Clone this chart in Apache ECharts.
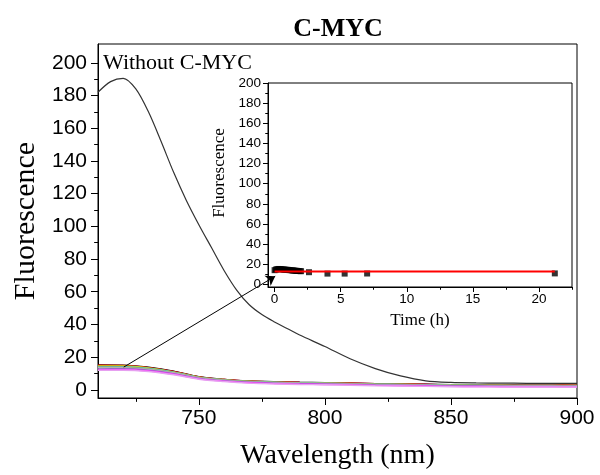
<!DOCTYPE html>
<html>
<head>
<meta charset="utf-8">
<script src="https://cdn.jsdelivr.net/npm/echarts@6/dist/echarts.min.js"></script>
<style>
  html, body { margin: 0; padding: 0; background: #fff; }
  #main { width: 600px; height: 475px; }
</style>
</head>
<body>
<div id="main"></div>
<script>
// main panel: emission spectra
const wlBlack = [710, 715, 720, 725, 730, 735, 740, 745, 750, 755, 760, 765, 770, 775, 780, 785, 790, 800, 810, 820, 830, 840, 850, 860, 870, 880, 890, 900];
const withoutCMYC = [182, 188.5, 190.5, 184, 170, 152, 133, 116, 101, 87, 73, 61, 52, 46, 41.5, 37.5, 33.5, 26.5, 19, 13, 8.5, 5.5, 4.5, 4.2, 4.1, 4.0, 4.0, 4.0];

const wlLow = [710, 720, 730, 740, 750, 760, 770, 780, 790, 800, 810, 820, 830, 840, 850, 860, 870, 880, 890, 900];
const lowBlack    = [15.2, 15.1, 13.8, 11.4, 8.0, 6.4, 5.4, 4.9, 4.6, 4.4, 4.1, 3.8, 3.6, 3.4, 3.2, 3.1, 3.0, 2.9, 2.9, 2.8];
const lowRed      = [15.0, 14.9, 13.6, 11.2, 7.9, 6.3, 5.3, 4.8, 4.5, 4.3, 4.0, 3.7, 3.5, 3.3, 3.1, 3.0, 2.9, 2.8, 2.8, 2.7];
const lowMaroon   = [14.8, 14.7, 13.5, 11.1, 7.8, 6.3, 5.3, 4.8, 4.5, 4.3, 4.0, 3.7, 3.5, 3.3, 3.1, 3.0, 2.9, 2.8, 2.8, 2.7];
const lowYellow   = [14.6, 14.6, 13.4, 11.0, 7.8, 6.2, 5.2, 4.7, 4.4, 4.2, 3.9, 3.6, 3.4, 3.2, 3.0, 2.9, 2.8, 2.7, 2.7, 2.6];
const lowCyan     = [14.2, 14.2, 13.1, 10.8, 7.6, 6.1, 5.1, 4.6, 4.3, 4.1, 3.8, 3.5, 3.3, 3.1, 2.9, 2.8, 2.7, 2.6, 2.6, 2.5];
const lowOlive    = [13.8, 13.8, 12.8, 10.6, 7.5, 6.0, 5.0, 4.5, 4.2, 4.0, 3.7, 3.4, 3.2, 3.0, 2.8, 2.7, 2.6, 2.5, 2.5, 2.4];
const lowGrey     = [13.4, 13.4, 12.4, 10.3, 7.3, 5.8, 4.8, 4.3, 4.0, 3.8, 3.5, 3.2, 3.0, 2.8, 2.6, 2.5, 2.4, 2.3, 2.3, 2.2];
const lowViolet   = [12.8, 12.9, 12.0, 9.9, 7.0, 5.6, 4.6, 4.1, 3.8, 3.6, 3.3, 3.0, 2.8, 2.6, 2.4, 2.3, 2.2, 2.1, 2.1, 2.0];
const lowMagenta  = [12.2, 12.3, 11.5, 9.5, 6.7, 5.3, 4.3, 3.8, 3.5, 3.3, 3.0, 2.7, 2.5, 2.3, 2.1, 2.0, 1.9, 1.9, 1.8, 1.8];
const lowLavender = [11.9, 12.0, 11.2, 9.2, 6.5, 5.1, 4.1, 3.6, 3.3, 3.1, 2.8, 2.5, 2.3, 2.1, 1.9, 1.8, 1.8, 1.7, 1.7, 1.7];

const wlTicks = [750, 800, 850, 900];
const wlMinor = [725, 775, 825, 875];
const fTicks = [0, 20, 40, 60, 80, 100, 120, 140, 160, 180, 200];
const fMinor = [10, 30, 50, 70, 90, 110, 130, 150, 170, 190];

// inset: fluorescence vs time
const timeH = [0, 0.1, 0.2, 0.3, 0.4, 0.5, 0.6, 0.7, 0.8, 0.9, 1.0, 1.1, 1.2, 1.3, 1.4, 1.5, 1.6, 1.7, 1.8, 1.9, 2.0, 2.6, 4.0, 5.3, 7.0, 21.2];
const fluorTime = [14.2, 14.8, 15.2, 15.4, 15.3, 15.1, 15.0, 14.8, 14.7, 14.6, 14.5, 14.3, 14.2, 14.0, 13.9, 13.8, 13.6, 13.5, 13.4, 13.3, 13.2, 12.2, 10.8, 10.8, 10.9, 11.0];
const fitTime = [0, 21.2];
const fitValue = [12.9, 12.9];
const tTicks = [0, 5, 10, 15, 20];
const tMinor = [2.5, 7.5, 12.5, 17.5, 22.5];

// arrow from the low curves to the inset (main-panel data coords)
const arrowFrom = [720.2, 13.9];
const arrowTo = [780.3, 69.5];

const SANS = 'Liberation Sans, Arial, sans-serif';
const SERIF = 'Liberation Serif, Times New Roman, serif';

const zip = (xs, ys) => xs.map((x, i) => [x, ys[i]]);

function axis(kind, opts) {
  const major = opts.major;
  const base = {
    type: 'value',
    gridIndex: opts.grid,
    min: opts.min,
    max: opts.max,
    position: kind === 'x' ? 'bottom' : 'left',
    splitLine: { show: false },
    axisLine: { show: major, onZero: false, lineStyle: { color: '#000', width: 1 } },
    axisTick: {
      show: true,
      inside: false,
      length: major ? opts.tickLen : opts.tickLen * 0.55,
      customValues: opts.values,
      lineStyle: { color: '#000', width: 1 }
    },
    axisLabel: {
      show: major,
      customValues: opts.values,
      margin: opts.margin,
      color: '#000',
      fontFamily: SANS,
      fontSize: opts.fontSize
    }
  };
  if (major && opts.name) {
    base.name = opts.name;
    base.nameLocation = 'middle';
    base.nameGap = opts.nameGap;
    base.nameTextStyle = { fontFamily: SERIF, fontSize: opts.nameSize, color: '#000' };
  }
  return base;
}

const lowSets = [
  [lowBlack, '#000000'],
  [lowRed, '#ff0000'],
  [lowMaroon, '#a0003c'],
  [lowYellow, '#e0e000'],
  [lowCyan, '#33cccc'],
  [lowOlive, '#a0a070'],
  [lowGrey, '#bbbbbb'],
  [lowViolet, '#9966cc'],
  [lowMagenta, '#ff33ff'],
  [lowLavender, '#e6a0f0']
];

const series = [
  {
    type: 'line', xAxisIndex: 0, yAxisIndex: 0,
    data: zip(wlBlack, withoutCMYC),
    smooth: 0.3, showSymbol: false,
    lineStyle: { color: '#333', width: 1.2 }
  }
];
lowSets.forEach(([vals, color], i) => {
  const s = {
    type: 'line', xAxisIndex: 0, yAxisIndex: 0,
    data: zip(wlLow, vals),
    smooth: 0.3, showSymbol: false,
    lineStyle: { color: color, width: 1.4 }
  };
  if (i === 0) {
    s.markLine = {
      silent: true,
      symbol: ['none', 'arrow'],
      symbolSize: 9,
      label: { show: false },
      lineStyle: { color: '#000', width: 1, type: 'solid' },
      data: [[{ coord: arrowFrom }, { coord: arrowTo }]]
    };
  }
  series.push(s);
});
series.push({
  type: 'scatter', xAxisIndex: 2, yAxisIndex: 2,
  data: zip(timeH, fluorTime),
  symbol: 'rect', symbolSize: 6,
  itemStyle: { color: '#000' }
});
series.push({
  type: 'line', xAxisIndex: 2, yAxisIndex: 2,
  data: zip(fitTime, fitValue),
  showSymbol: false,
  lineStyle: { color: '#ff0000', width: 2 }
});

const chart = echarts.init(document.getElementById('main'), null, { renderer: 'canvas' });
chart.setOption({
  animation: false,
  backgroundColor: '#fff',
  grid: [
    { left: 98, top: 44, width: 479, height: 357, show: true, borderColor: '#000', borderWidth: 1, backgroundColor: 'transparent' },
    { left: 268, top: 83, width: 304, height: 204, show: true, borderColor: '#000', borderWidth: 1, backgroundColor: 'transparent' }
  ],
  xAxis: [
    axis('x', { grid: 0, min: 710, max: 900, major: true, values: wlTicks, tickLen: 7, margin: 10, fontSize: 21, name: 'Wavelength (nm)', nameGap: 44, nameSize: 28 }),
    axis('x', { grid: 0, min: 710, max: 900, major: false, values: wlMinor, tickLen: 7 }),
    axis('x', { grid: 1, min: -0.5, max: 22.5, major: true, values: tTicks, tickLen: 5, margin: 5, fontSize: 13.5, name: 'Time (h)', nameGap: 25, nameSize: 17 }),
    axis('x', { grid: 1, min: -0.5, max: 22.5, major: false, values: tMinor, tickLen: 5 })
  ],
  yAxis: [
    axis('y', { grid: 0, min: -5, max: 211.5, major: true, values: fTicks, tickLen: 7, margin: 11, fontSize: 21, name: 'Fluorescence', nameGap: 56, nameSize: 30 }),
    axis('y', { grid: 0, min: -5, max: 211.5, major: false, values: fMinor, tickLen: 7 }),
    axis('y', { grid: 1, min: -2.5, max: 200, major: true, values: fTicks, tickLen: 5, margin: 7, fontSize: 13.5 }),
    axis('y', { grid: 1, min: -2.5, max: 200, major: false, values: fMinor, tickLen: 5 })
  ],
  graphic: [
    { type: 'text', x: 338, y: 29, style: { text: 'C-MYC', fontFamily: SERIF, fontWeight: 'bold', fontSize: 26, fill: '#000', align: 'center', verticalAlign: 'middle' } },
    { type: 'text', x: 103, y: 63, style: { text: 'Without C-MYC', fontFamily: SERIF, fontSize: 22, fill: '#000', align: 'left', verticalAlign: 'middle' } },
    { type: 'text', x: 220, y: 173, rotation: Math.PI / 2, style: { text: 'Fluorescence', fontFamily: SERIF, fontSize: 17, fill: '#000', align: 'center', verticalAlign: 'middle' } }
  ],
  series: series
});
</script>
</body>
</html>
